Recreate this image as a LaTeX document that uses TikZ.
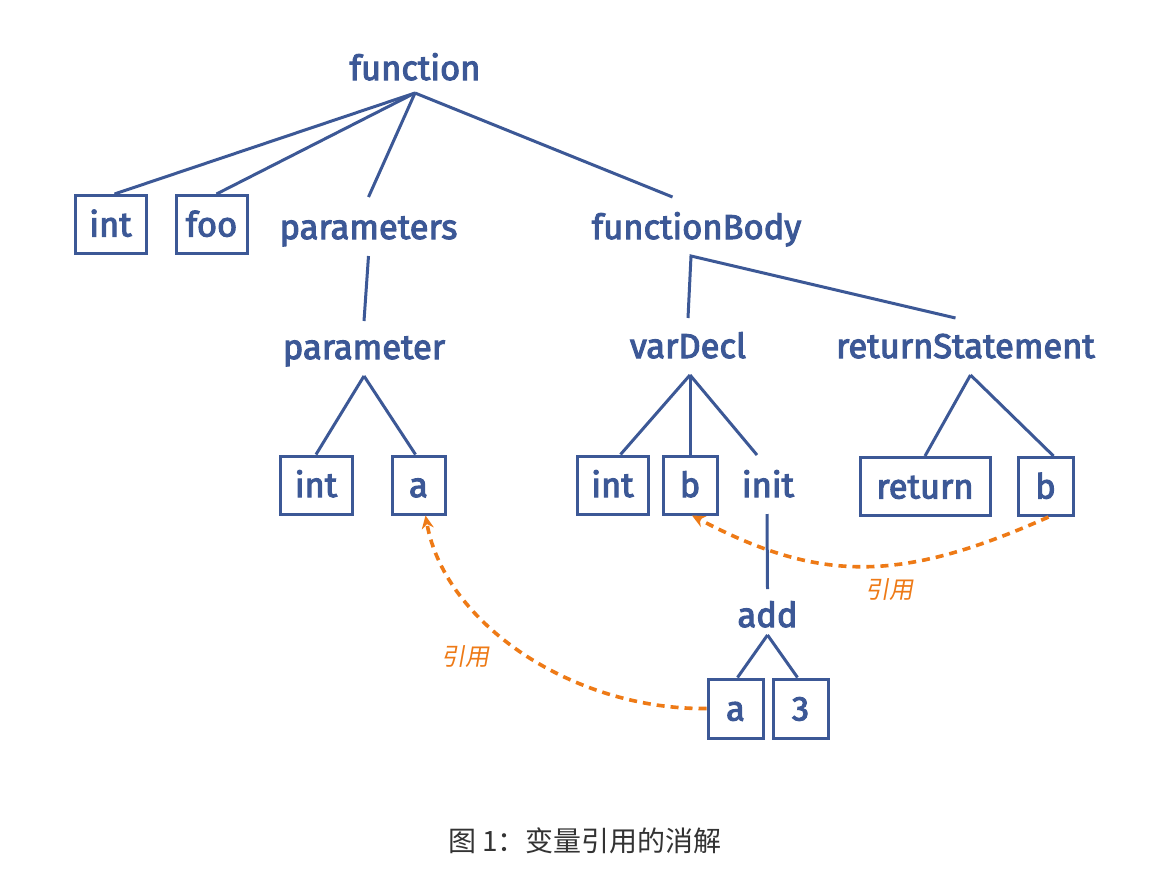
\documentclass[tikz,border=0pt]{standalone}
\usepackage{fontspec}
\setmainfont{Fira Sans}
\newfontfamily\lblfont{Fira Sans}[FakeBold=3]
\newfontfamily\cjk{Noto Sans CJK SC}
\newfontfamily\cjkslant{Noto Sans CJK SC}[FakeSlant=0.18]
\usetikzlibrary{arrows.meta,calc}
\definecolor{ast}{RGB}{60,88,150}
\definecolor{orn}{RGB}{238,122,22}
\definecolor{capc}{RGB}{51,51,51}
\tikzset{
  lbl/.style={font=\lblfont\fontsize{34.5}{40}\selectfont, text=ast, inner sep=0pt, outer sep=0pt, text height=42pt, text depth=17pt, anchor=base},
  box/.style={draw=ast, line width=3pt, font=\lblfont\fontsize{34.5}{40}\selectfont, text=ast, inner sep=0pt, text height=24pt, text depth=0pt, minimum height=58pt},
  conn/.style={draw=ast, line width=3pt},
  refline/.style={draw=orn, line width=3.6pt, dash pattern=on 8pt off 6pt, -{Stealth[length=13pt,width=12pt]}},
  reflbl/.style={font=\cjkslant\fontsize{24}{26}\selectfont, text=orn, inner sep=0pt},
}
\begin{document}
\begin{tikzpicture}[x=1pt,y=-1pt]
\fill[white] (0,0) rectangle (1172,894);
\useasboundingbox (0,0) rectangle (1172,894);
% nodes
\node[lbl] (fn) at (415,80) {function};
\node[box, minimum width=71pt] (int1) at (110.5,224.5) {int};
\node[box, minimum width=71pt] (foo) at (211.5,224.5) {foo};
\node[lbl] (params) at (368.5,239) {parameters};
\node[lbl] (fbody) at (696.5,239) {functionBody};
\node[lbl] (param) at (364,359) {parameter};
\node[lbl] (vardecl) at (688,358) {varDecl};
\node[lbl] (retst) at (965.5,358) {returnStatement};
\node[box, minimum width=72pt] (int2) at (316,485) {int};
\node[box, minimum width=53pt] (a1) at (418.5,485) {a};
\node[box, minimum width=71pt] (int3) at (612.5,485) {int};
\node[box, minimum width=54pt] (b1) at (690,485) {b};
\node[lbl] (init) at (768,497) {init};
\node[box, minimum width=130pt] (ret) at (925,486.5) {return};
\node[box, minimum width=55pt] (b2) at (1045.5,486.5) {b};
\node[lbl] (add) at (767.5,627) {add};
\node[box, minimum width=55pt, minimum height=59pt] (a2) at (735.5,708.5) {a};
\node[box, minimum width=55pt, minimum height=59pt] (three) at (800.5,708.5) {3};
\node[reflbl] (r1) at (465,657) {引用};
\node[reflbl] (r2) at (889,590) {引用};
\node[font=\cjk\fontsize{28}{30}\selectfont, text=capc, inner sep=0pt] (cap) at (585,841) {图 1：变量引用的消解};
% connectors
\draw[conn] ([yshift=4pt]fn.south) -- ([xshift=4pt]int1.north);
\draw[conn] ([yshift=4pt]fn.south) -- ([xshift=5pt]foo.north);
\draw[conn] ([yshift=4pt]fn.south) -- (params.north);
\draw[conn] ([yshift=4pt]fn.south) -- ([xshift=-24pt]fbody.north);
\draw[conn] (params.south) -- ([yshift=-4pt]param.north);
\draw[conn] ([yshift=-2pt]vardecl.north) -- ([xshift=3pt]vardecl.north |- fbody.south) -- ([xshift=-10pt,yshift=-2pt]retst.north);
\draw[conn] (param.south) -- (int2.north);
\draw[conn] (param.south) -- ([xshift=-3pt]a1.north);
\draw[conn] ([xshift=2pt]vardecl.south) -- ([xshift=8pt]int3.north);
\draw[conn] ([xshift=2pt]vardecl.south) -- (b1.north);
\draw[conn] ([xshift=2pt]vardecl.south) -- ([xshift=-11pt]init.north);
\draw[conn] ([xshift=-1pt]init.south) -- ([yshift=-4pt]add.north);
\draw[conn] ([xshift=5pt]retst.south) -- (ret.north);
\draw[conn] ([xshift=5pt]retst.south) -- ([xshift=8pt]b2.north);
\draw[conn] ([yshift=9pt]add.south) -- ([xshift=2pt]a2.north);
\draw[conn] ([yshift=9pt]add.south) -- ([xshift=-3pt]three.north);
% references
\draw[refline] ([xshift=3pt]b2.south) .. controls (900,583) and (820,583) .. ([xshift=2pt]b1.south);
\draw[refline] (a2.west) .. controls (575,710) and (445,625) .. ([xshift=7pt]a1.south);
\end{tikzpicture}
\end{document}
